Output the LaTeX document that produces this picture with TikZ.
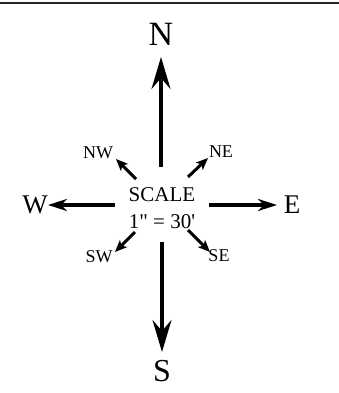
\documentclass[tikz,border=0pt]{standalone}
\usepackage{fontspec}
\setmainfont{Liberation Serif}
\usetikzlibrary{arrows.meta}
\tikzset{
 mainlbl/.style={inner sep=0pt,font=\fontsize{34bp}{34bp}\selectfont},
 sidelbl/.style={inner sep=0pt,font=\fontsize{27bp}{27bp}\selectfont},
 smalllbl/.style={inner sep=0pt,font=\fontsize{18bp}{18bp}\selectfont},
 scalelbl/.style={inner sep=0pt,align=center,font=\fontsize{21bp}{27bp}\selectfont},
 longarrow/.style={-{Stealth[length=32bp,width=19bp,inset=11bp]},line width=3.5bp},
 sidearrow/.style={-{Stealth[length=19bp,width=12bp,inset=6bp]},line width=3.5bp},
 diagarrow/.style={-{Stealth[length=12bp,width=10bp,inset=3bp]},line width=3bp}}
\begin{document}
\begin{tikzpicture}[x=1bp,y=-1bp]
\useasboundingbox (0,0) rectangle (339,393);
\draw[line width=2.5bp,black!85] (0,3) -- (339,3);
% labels
\node[mainlbl] (north) at (161,34) {N};
\node[mainlbl,font=\fontsize{32bp}{32bp}\selectfont] (south) at (162,371) {S};
\node[sidelbl] (west) at (35,205) {W};
\node[sidelbl] (east) at (292,205) {E};
\node[smalllbl] (nw) at (98,153) {NW};
\node[smalllbl] (ne) at (221,152) {NE};
\node[smalllbl] (sw) at (99,257) {SW};
\node[smalllbl] (se) at (219,256) {SE};
\node[scalelbl] (scale) at (162,208) {SCALE\\1\textquotedbl\ = 30\textquotesingle};
% arrow ends
\coordinate (nTail) at (161,167); \coordinate (nTip) at (161,57);
\coordinate (sTail) at (162,242); \coordinate (sTip) at (162,352);
\coordinate (wTail) at (115,205); \coordinate (wTip) at (48,205);
\coordinate (eTail) at (209,205); \coordinate (eTip) at (277,205);
\coordinate (nwTail) at (136,179); \coordinate (nwTip) at (116,159);
\coordinate (neTail) at (188,177); \coordinate (neTip) at (208,158);
\coordinate (swTail) at (135,232); \coordinate (swTip) at (115,252);
\coordinate (seTail) at (188,230); \coordinate (seTip) at (210,252);
\draw[longarrow] (nTail) -- (nTip);
\draw[longarrow] (sTail) -- (sTip);
\draw[sidearrow] (wTail) -- (wTip);
\draw[sidearrow] (eTail) -- (eTip);
\draw[diagarrow] (nwTail) -- (nwTip);
\draw[diagarrow] (neTail) -- (neTip);
\draw[diagarrow] (swTail) -- (swTip);
\draw[diagarrow] (seTail) -- (seTip);
\end{tikzpicture}
\end{document}
